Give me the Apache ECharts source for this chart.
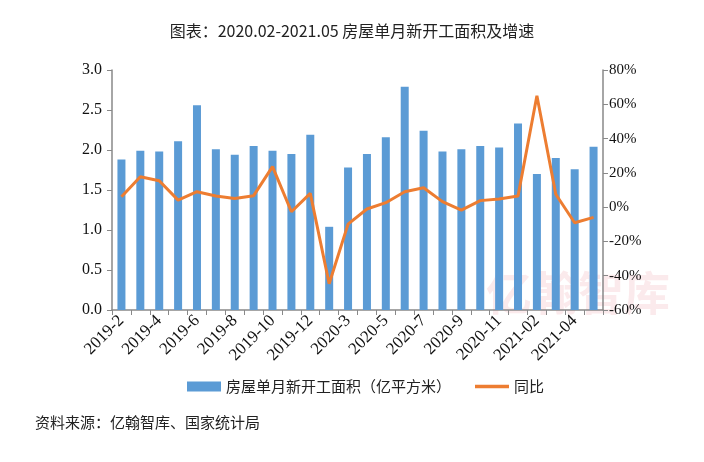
<!DOCTYPE html>
<html><head><meta charset="utf-8">
<script src="https://cdn.jsdelivr.net/npm/echarts@6/dist/echarts.min.js"></script>
<style>html,body{margin:0;padding:0;background:#fff}#c{width:704px;height:462px}</style>
</head><body><div id="c"></div>
<script>
const categories = ['2019-2','2019-3','2019-4','2019-5','2019-6','2019-7','2019-8','2019-9','2019-10','2019-11','2019-12','2020-2','2020-3','2020-4','2020-5','2020-6','2020-7','2020-8','2020-9','2020-10','2020-11','2020-12','2021-02','2021-03','2021-04','2021-05'];
const areaValues = [1.88,1.99,1.98,2.11,2.56,2.01,1.94,2.05,1.99,1.95,2.19,1.04,1.78,1.95,2.16,2.79,2.24,1.98,2.01,2.05,2.03,2.33,1.70,1.90,1.76,2.04];
const yoyValues = [6.1,17.7,15.4,4.1,9.0,6.5,5.1,6.7,23.6,-2.7,8.0,-44.7,-9.9,-1.1,2.6,9.0,11.3,3.2,-1.7,3.8,4.7,6.5,65.0,7.5,-9.1,-6.0];
const leftTicks = {min:0, max:3, interval:0.5};
const rightTicks = {min:-60, max:80, interval:20};
const seriesNames = ['房屋单月新开工面积（亿平方米）','同比'];
const titleText = '图表：2020.02-2021.05 房屋单月新开工面积及增速';
const sourceText = '资料来源：亿翰智库、国家统计局';

const serif = '"Liberation Serif","DejaVu Serif","Noto Sans CJK SC",serif';
const cjk = '"Noto Sans CJK SC","Liberation Serif",sans-serif';
const chart = echarts.init(document.getElementById('c'));
chart.setOption({
  animation:false,
  title:{text:titleText,left:'center',top:18,textStyle:{fontFamily:cjk,fontSize:16,fontWeight:'normal',color:'#222'}},
  graphic:[
    {type:'text',left:35,top:415,style:{text:sourceText,font:'15px '+cjk,fill:'#222'}},
    {type:'text',left:486,top:270,z:-1,style:{text:'亿翰智库',font:'bold 46px '+cjk,fill:'rgba(235,160,170,0.22)'}}
  ],
  legend:{left:182,top:374,itemGap:24,textStyle:{fontFamily:cjk,fontSize:15,color:'#222'},
    data:[{name:seriesNames[0],icon:'rect'},{name:seriesNames[1],icon:'path://M0,0H30V3H0Z'}],itemWidth:34,itemHeight:10},
  grid:{left:112,right:101,top:70,bottom:152},
  xAxis:{type:'category',data:categories,boundaryGap:true,
    axisLine:{lineStyle:{color:'#898989',width:1.5}},
    axisTick:{show:true,interval:0,length:5,lineStyle:{color:'#898989'}},
    axisLabel:{interval:1,rotate:45,fontFamily:serif,fontSize:17,color:'#111',margin:8}},
  yAxis:[
    {type:'value',min:leftTicks.min,max:leftTicks.max,interval:leftTicks.interval,
     axisLine:{show:true,lineStyle:{color:'#898989',width:1.5}},axisTick:{show:true,length:5,lineStyle:{color:'#898989'}},
     splitLine:{show:false},axisLabel:{formatter:v=>v.toFixed(1),fontFamily:serif,fontSize:16,color:'#111',margin:10}},
    {type:'value',min:rightTicks.min,max:rightTicks.max,interval:rightTicks.interval,position:'right',
     axisLine:{show:true,lineStyle:{color:'#898989',width:1.5}},axisTick:{show:true,length:5,lineStyle:{color:'#898989'}},
     splitLine:{show:false},axisLabel:{formatter:v=>v+'%',fontFamily:serif,fontSize:15,color:'#111',margin:6}}
  ],
  series:[
    {name:seriesNames[0],type:'bar',data:areaValues,barWidth:8,itemStyle:{color:'#5B9BD5'}},
    {name:seriesNames[1],type:'line',yAxisIndex:1,data:yoyValues,symbol:'none',lineStyle:{color:'#ED7D31',width:3},itemStyle:{color:'#ED7D31'}}
  ]
});
</script></body></html>
